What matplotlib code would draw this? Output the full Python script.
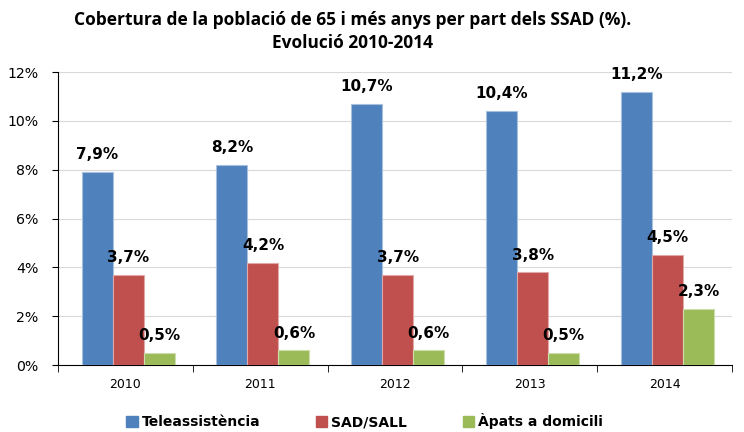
import matplotlib.pyplot as plt
import numpy as np
from matplotlib.patches import Patch

years = ['2010', '2011', '2012', '2013', '2014']
teleassistencia = [7.9, 8.2, 10.7, 10.4, 11.2]
sad_sall = [3.7, 4.2, 3.7, 3.8, 4.5]
apats = [0.5, 0.6, 0.6, 0.5, 2.3]
series_names = ['Teleassistència', 'SAD/SALL', 'Àpats a domicili']

colors = ['#4F81BD', '#C0504D', '#9BBB59']
edges = ['#A7C0DE', '#E0A8A6', '#CDDDAC']

fig = plt.figure(figsize=(7.44, 4.32), dpi=100)
ax = fig.add_axes([0.078, 0.155, 0.906, 0.678])

x = np.arange(len(years))
w = 0.23
for i, vals in enumerate([teleassistencia, sad_sall, apats]):
    pos = x + (i - 1) * w + 0.02
    ax.bar(pos, vals, width=w, color=colors[i], edgecolor=edges[i], linewidth=0.8, zorder=3)
    for p, v in zip(pos, vals):
        ax.annotate(f'{v:.1f}%'.replace('.', ','), (p, v), xytext=(0, 7),
                    textcoords='offset points', ha='center', va='bottom',
                    fontsize=11, fontweight='bold', color='black')

ax.set_xlim(-0.5, len(years) - 0.5)
ax.set_ylim(0, 12)
ax.set_yticks(range(0, 13, 2))
ax.set_yticklabels([f'{t}%' for t in range(0, 13, 2)], fontsize=10.2)
ax.set_xticks(x)
ax.set_xticklabels(years, fontsize=9)
ax.set_xticks(np.arange(-0.5, len(years), 1), minor=True)
ax.tick_params(axis='x', which='major', length=0, pad=9)
ax.tick_params(axis='x', which='minor', length=5, color='black', direction='out')
ax.tick_params(axis='y', length=4, color='black', pad=10)
ax.grid(axis='y', color='#D9D9D9', linewidth=0.8, zorder=0)
for s in ['top', 'right']:
    ax.spines[s].set_visible(False)
ax.spines['left'].set_color('black')
ax.spines['bottom'].set_color('black')

fig.text(0.474, 0.975, 'Cobertura de la població de 65 i més anys per part dels SSAD (%).\nEvolució 2010-2014',
         ha='center', va='top', fontsize=12.5, fontweight='bold', family='Open Sans', linespacing=1.35)

handles = [Patch(facecolor=c, edgecolor=c) for c in colors]
fig.legend(handles, series_names, loc='center', bbox_to_anchor=(0.49, 0.025), ncol=3,
           frameon=False, prop={'weight': 'bold', 'size': 10}, columnspacing=4.0,
           handlelength=0.8, handleheight=0.8, handletextpad=0.3)

fig.savefig('out.png', dpi=100)
